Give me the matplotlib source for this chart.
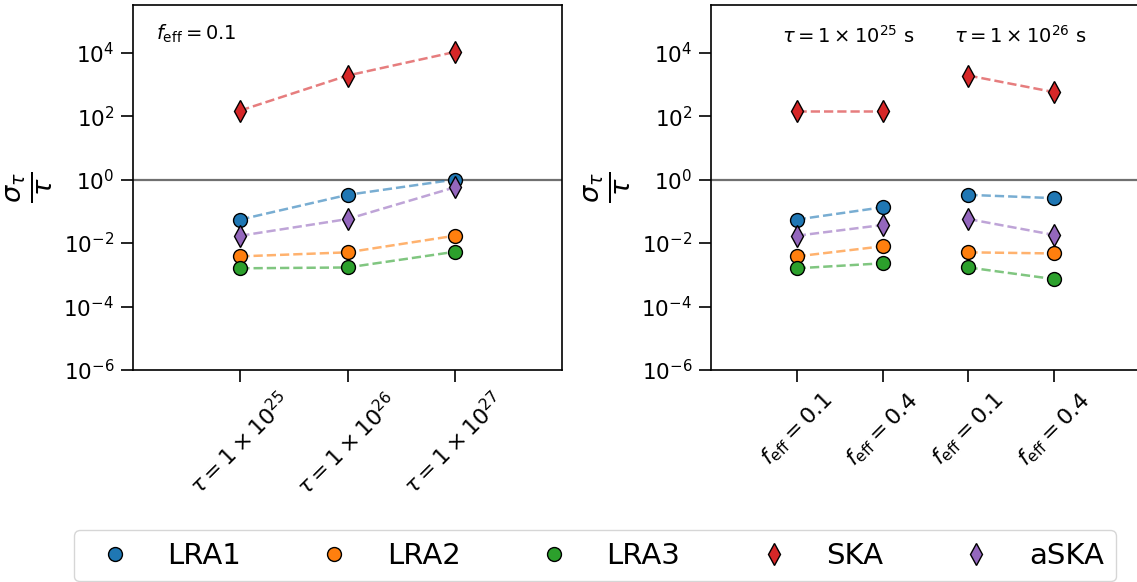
"""
Fractional lifetime uncertainty sigma_tau/tau for each array.
Left: vs lifetime at f_eff = 0.1.  Right: vs f_eff for two lifetimes.
"""
import matplotlib
matplotlib.use("Agg")
import matplotlib.pyplot as plt
from matplotlib.lines import Line2D

# ---- data ----
ARRAYS  = ["LRA1", "LRA2", "LRA3", "SKA", "aSKA"]
COLORS  = ["tab:blue", "tab:orange", "tab:green", "tab:red", "tab:purple"]
MARKERS = ["o", "o", "o", "d", "d"]

LEFT_TICKS = [r"$\tau = 1 \times 10^{25}$",
              r"$\tau = 1 \times 10^{26}$",
              r"$\tau = 1 \times 10^{27}$"]
left_lra1 = [0.055, 0.33, 1.0]
left_lra2 = [0.0038, 0.0051, 0.017]
left_lra3 = [0.0016, 0.0017, 0.0053]
left_ska  = [150, 1900, 1.05e4]
left_aska = [0.017, 0.057, 0.57]

RIGHT_TICKS = [r"$f_\mathrm{eff} = 0.1$", r"$f_\mathrm{eff} = 0.4$",
               r"$f_\mathrm{eff} = 0.1$", r"$f_\mathrm{eff} = 0.4$"]
RIGHT_GROUPS = [r"$\tau = 1 \times 10^{25}$ s", r"$\tau = 1 \times 10^{26}$ s"]
right_lra1 = [0.055, 0.134, 0.33, 0.26]
right_lra2 = [0.0038, 0.0079, 0.0051, 0.0047]
right_lra3 = [0.0016, 0.0023, 0.0017, 0.00073]
right_ska  = [145, 145, 1900, 570]
right_aska = [0.017, 0.037, 0.057, 0.018]

LEFT  = [left_lra1, left_lra2, left_lra3, left_ska, left_aska]
RIGHT = [right_lra1, right_lra2, right_lra3, right_ska, right_aska]

YTICKS = [1e-6, 1e-4, 1e-2, 1e0, 1e2, 1e4]


def style_axis(ax):
    ax.set_yscale("log")
    ax.set_ylim(1e-6, 10**5.5)
    ax.set_yticks(YTICKS)
    ax.minorticks_off()
    ax.tick_params(axis="y", labelsize=15.5, length=8.5, width=1.2, pad=5)
    ax.tick_params(axis="x", labelsize=16, length=8.5, width=1.2, pad=5)
    for sp in ax.spines.values():
        sp.set_linewidth(1.2)
    ax.axhline(1.0, color="#707070", linewidth=1.6, zorder=1)
    ax.set_ylabel(r"$\frac{\sigma_\tau}{\tau}$", fontsize=28, labelpad=6)


def draw_series(ax, xs, ys, color, marker, segments):
    for a, b in segments:
        ax.plot(xs[a:b], ys[a:b], linestyle="--", color=color, alpha=0.6,
                linewidth=1.8, zorder=2)
    ms = 11 if marker == "d" else 10
    ax.plot(xs, ys, linestyle="none", marker=marker, markersize=ms,
            markerfacecolor=color, markeredgecolor="k", markeredgewidth=1.0,
            zorder=3)


fig = plt.figure(figsize=(11.37, 5.82), dpi=100)
ax1 = fig.add_axes([0.117, 0.3643, 0.3773, 0.627])
ax2 = fig.add_axes([0.6253, 0.3643, 0.3773, 0.627])

# left panel
xl = list(range(len(LEFT_TICKS)))
for vals, c, m in zip(LEFT, COLORS, MARKERS):
    draw_series(ax1, xl, vals, c, m, [(0, 3)])
style_axis(ax1)
ax1.set_xlim(-1, 3)
ax1.set_xticks(xl)
ax1.set_xticklabels(LEFT_TICKS, rotation=45)
ax1.text(0.054, 0.92, r"$f_\mathrm{eff} = 0.1$", transform=ax1.transAxes,
         fontsize=14, ha="left", va="center")

# right panel
xr = list(range(len(RIGHT_TICKS)))
for vals, c, m in zip(RIGHT, COLORS, MARKERS):
    draw_series(ax2, xr, vals, c, m, [(0, 2), (2, 4)])
style_axis(ax2)
ax2.set_xlim(-1, 4)
ax2.set_xticks(xr)
ax2.set_xticklabels(RIGHT_TICKS, rotation=45)
for gx, lab in zip([0.6, 2.6], RIGHT_GROUPS):
    ax2.text(gx, 0.915, lab, transform=ax2.get_xaxis_transform(),
             fontsize=14, ha="center", va="center")

# shared legend
handles = [Line2D([], [], linestyle="none", marker=m,
                  markersize=11 if m == "d" else 10,
                  markerfacecolor=c, markeredgecolor="k", markeredgewidth=1.0,
                  label=lab)
           for lab, c, m in zip(ARRAYS, COLORS, MARKERS)]
fig.legend(handles=handles, loc="center", ncol=5, fontsize=21,
           columnspacing=2.2, bbox_to_anchor=(0.523, 0.045))

fig.savefig("out.png", dpi=100)
